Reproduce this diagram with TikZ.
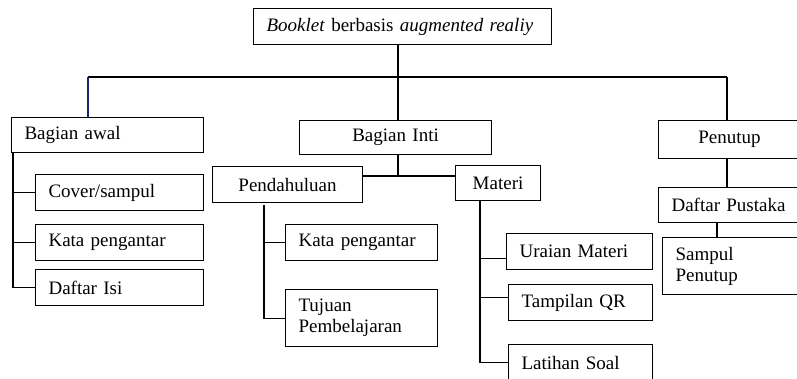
\documentclass[tikz,border=0pt]{standalone}
\usepackage{fontspec}
\setmainfont{Liberation Serif}
\begin{document}
\begin{tikzpicture}[
  x=1pt, y=-1pt,
  box/.style={draw, line width=1.1pt, anchor=north west, inner xsep=13pt,
    inner ysep=0pt, align=left, font=\fontsize{19}{21}\selectfont},
  link/.style={line width=1.1pt}
  ]
  \useasboundingbox (0,0) rectangle (797,378);
  \clip (0,0) rectangle (797,378);
  \node[box, text width=272pt, minimum height=36pt] (booklet) at (253,8)
    {\textit{Booklet} berbasis \textit{augmented realiy}};
  \node[box, text width=166pt, minimum height=35pt] (awal) at (11,117) {Bagian awal};
  \node[box, text width=166pt, minimum height=34pt, align=center] (inti) at (299,120) {Bagian Inti};
  \node[box, text width=116pt, minimum height=38pt, align=center] (penutup) at (658,120) {Penutup};
  \node[box, text width=142pt, minimum height=36pt] (cover) at (35,174) {Cover/sampul};
  \node[box, text width=142pt, minimum height=36pt] (kataawal) at (35,224) {Kata pengantar};
  \node[box, text width=142pt, minimum height=36pt] (isi) at (35,269) {Daftar Isi};
  \node[box, text width=124pt, minimum height=36pt, align=center] (pendahuluan) at (212,166) {Pendahuluan};
  \node[box, text width=59pt, minimum height=35pt, align=center] (materi) at (455,165) {Materi};
  \node[box, text width=126pt, minimum height=36pt] (katainti) at (285,224) {Kata pengantar};
  \node[box, text width=126pt, minimum height=57pt] (tujuan) at (285,289) {Tujuan\\Pembelajaran};
  \node[box, text width=120pt, minimum height=36pt] (uraian) at (506,233) {Uraian Materi};
  \node[box, text width=118pt, minimum height=36pt] (qr) at (508,284) {Tampilan QR};
  \node[box, text width=118pt, minimum height=36pt] (latihan) at (508,344) {Latihan Soal};
  \node[box, text width=116pt, minimum height=35pt] (pustaka) at (658,187) {Daftar Pustaka};
  \node[box, text width=112pt, minimum height=57pt] (sampul) at (662,237) {Sampul\\Penutup};

  \coordinate (hub) at (398,77);
  \coordinate (hubleft) at (88,77);
  \coordinate (hubright) at (727,77);
  \coordinate (intihub) at (398,176);
  \coordinate (awalspine) at (13,152);
  \coordinate (pendspine) at (264,205);
  \coordinate (materispine) at (480,200);
  \coordinate (pustakadrop) at (717,222);
  \coordinate (uraianin) at ([yshift=-7pt]uraian.west);
  \coordinate (qrin) at ([yshift=5pt]qr.west);

  \draw[link] (booklet.south -| hub) -- (inti.north -| hub);
  \draw[link] (hubleft) -- (hubright);
  \draw[link, color={rgb,255:red,20;green,40;blue,110}] (hubleft) -- (awal.north -| hubleft);
  \draw[link] (hubright) -- (penutup.north -| hubright);
  \draw[link] (inti.south -| intihub) -- (intihub);
  \draw[link] (pendahuluan.east |- intihub) -- (materi.west |- intihub);
  \draw[link] (awalspine) |- (isi.west);
  \draw[link] (awalspine |- cover.west) -- (cover.west);
  \draw[link] (awalspine |- kataawal.west) -- (kataawal.west);
  \draw[link] (pendspine) |- (tujuan.west);
  \draw[link] (pendspine |- katainti.west) -- (katainti.west);
  \draw[link] (materispine) |- (latihan.west);
  \draw[link] (materispine |- uraianin) -- (uraianin);
  \draw[link] (materispine |- qrin) -- (qrin);
  \draw[link] (penutup.south -| hubright) -- (pustaka.north -| hubright);
  \draw[link] (pustaka.south -| pustakadrop) -- (sampul.north -| pustakadrop);
\end{tikzpicture}
\end{document}
